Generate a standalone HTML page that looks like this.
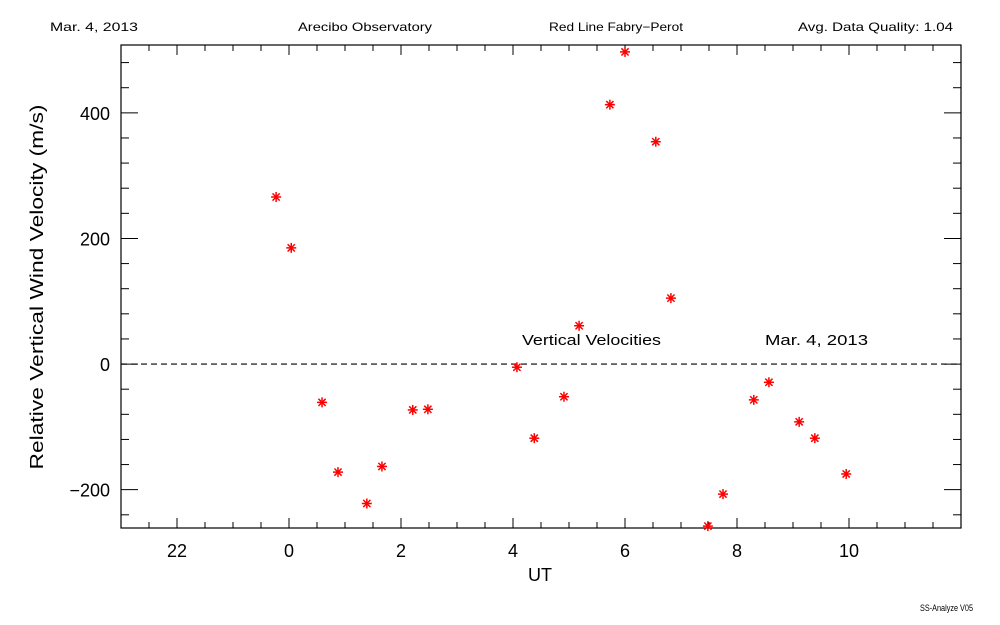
<!DOCTYPE html>
<html><head><meta charset="utf-8"><style>
body{margin:0;background:#fff;}
svg{display:block;font-family:"Liberation Sans",sans-serif;}
</style></head><body>
<svg id="chart" width="1000" height="625" xmlns="http://www.w3.org/2000/svg">
<rect width="1000" height="625" fill="#fff"/>
<text x="50" y="31" font-size="12" textLength="88" lengthAdjust="spacingAndGlyphs">Mar. 4, 2013</text>
<text x="298" y="31" font-size="12" textLength="134" lengthAdjust="spacingAndGlyphs">Arecibo Observatory</text>
<text x="549" y="31" font-size="12" textLength="134" lengthAdjust="spacingAndGlyphs">Red Line Fabry−Perot</text>
<text x="798" y="31" font-size="12" textLength="155" lengthAdjust="spacingAndGlyphs">Avg. Data Quality: 1.04</text>
<text x="920" y="611" font-size="9" textLength="53" lengthAdjust="spacingAndGlyphs">SS-Analyze V05</text>
<g id="axes"></g>
<g id="marks"></g>
<text x="522" y="345" font-size="15" textLength="139" lengthAdjust="spacingAndGlyphs">Vertical Velocities</text>
<text x="765" y="345" font-size="15" textLength="103" lengthAdjust="spacingAndGlyphs">Mar. 4, 2013</text>
<text x="540" y="581" font-size="18" text-anchor="middle">UT</text>
<text transform="translate(43,287) rotate(-90)" font-size="18" text-anchor="middle" textLength="365" lengthAdjust="spacingAndGlyphs">Relative Vertical Wind Velocity (m/s)</text>
</svg>
<script>
const hours=[-0.23,0.04,0.59,0.875,1.39,1.66,2.21,2.48,4.07,4.38,4.91,5.18,5.73,6.0,6.55,6.82,7.48,7.75,8.30,8.57,9.11,9.39,9.95];
const velocities=[266,185,-61,-172,-222,-163,-73,-72,-5,-118,-52,61,413,497,354,105,-258,-207,-57,-29,-92,-118,-175];
const xTickValues=[-2,0,2,4,6,8,10];
const xTickLabels=["22","0","2","4","6","8","10"];
const yTickValues=[-200,0,200,400];
const yTickLabels=["−200","0","200","400"];
const X0=121,X1=961,Y0=45,Y1=528,XMIN=-3,XMAX=12,YMIN=-261,YMAX=508;
const sx=v=>X0+(v-XMIN)/(XMAX-XMIN)*(X1-X0);
const sy=v=>Y1-(v-YMIN)/(YMAX-YMIN)*(Y1-Y0);
const NS="http://www.w3.org/2000/svg";
const axes=document.getElementById('axes'),marks=document.getElementById('marks');
function line(p,x1,y1,x2,y2,c,w,dash){const l=document.createElementNS(NS,'line');l.setAttribute('x1',x1);l.setAttribute('y1',y1);l.setAttribute('x2',x2);l.setAttribute('y2',y2);l.setAttribute('stroke',c||'#000');l.setAttribute('stroke-width',w||1);if(dash)l.setAttribute('stroke-dasharray',dash);p.appendChild(l);return l;}
const frame=document.createElementNS(NS,'rect');
frame.setAttribute('x',X0);frame.setAttribute('y',Y0);frame.setAttribute('width',X1-X0);frame.setAttribute('height',Y1-Y0);frame.setAttribute('fill','none');frame.setAttribute('stroke','#000');frame.setAttribute('stroke-width','1.2');


axes.appendChild(frame);
for(let h=-3;h<=12.001;h+=0.5){const x=sx(h);const major=Math.abs(h%2)<1e-6;const len=major?10:6;
line(axes,x,Y1,x,Y1-len);line(axes,x,Y0,x,Y0+len);}
for(let v=-240;v<=500;v+=40){const y=sy(v);const major=v%200===0;const len=major?17:8;
line(axes,X0,y,X0+len,y);line(axes,X1,y,X1-len,y);}
xTickValues.forEach((v,i)=>{const t=document.createElementNS(NS,'text');t.setAttribute('x',sx(v));t.setAttribute('y',557);t.setAttribute('font-size','18');t.setAttribute('text-anchor','middle');t.textContent=xTickLabels[i];


axes.appendChild(t);});
yTickValues.forEach((v,i)=>{const t=document.createElementNS(NS,'text');t.setAttribute('x',110);t.setAttribute('y',sy(v)+7);t.setAttribute('font-size','18');t.setAttribute('text-anchor','end');t.textContent=yTickLabels[i];


axes.appendChild(t);});
const zl=line(axes,X0,sy(0),X1,sy(0),'#000',1.2,'6,4');


hours.forEach((h,i)=>{const g=document.createElementNS(NS,'g');const x=sx(h),y=sy(velocities[i]);const r=5;
line(g,x-r,y,x+r,y,'#f00',1.5);line(g,x,y-r,x,y+r,'#f00',1.5);line(g,x-3.6,y-3.6,x+3.6,y+3.6,'#f00',1.5);line(g,x-3.6,y+3.6,x+3.6,y-3.6,'#f00',1.5);


marks.appendChild(g);});
</script>
</body></html>
